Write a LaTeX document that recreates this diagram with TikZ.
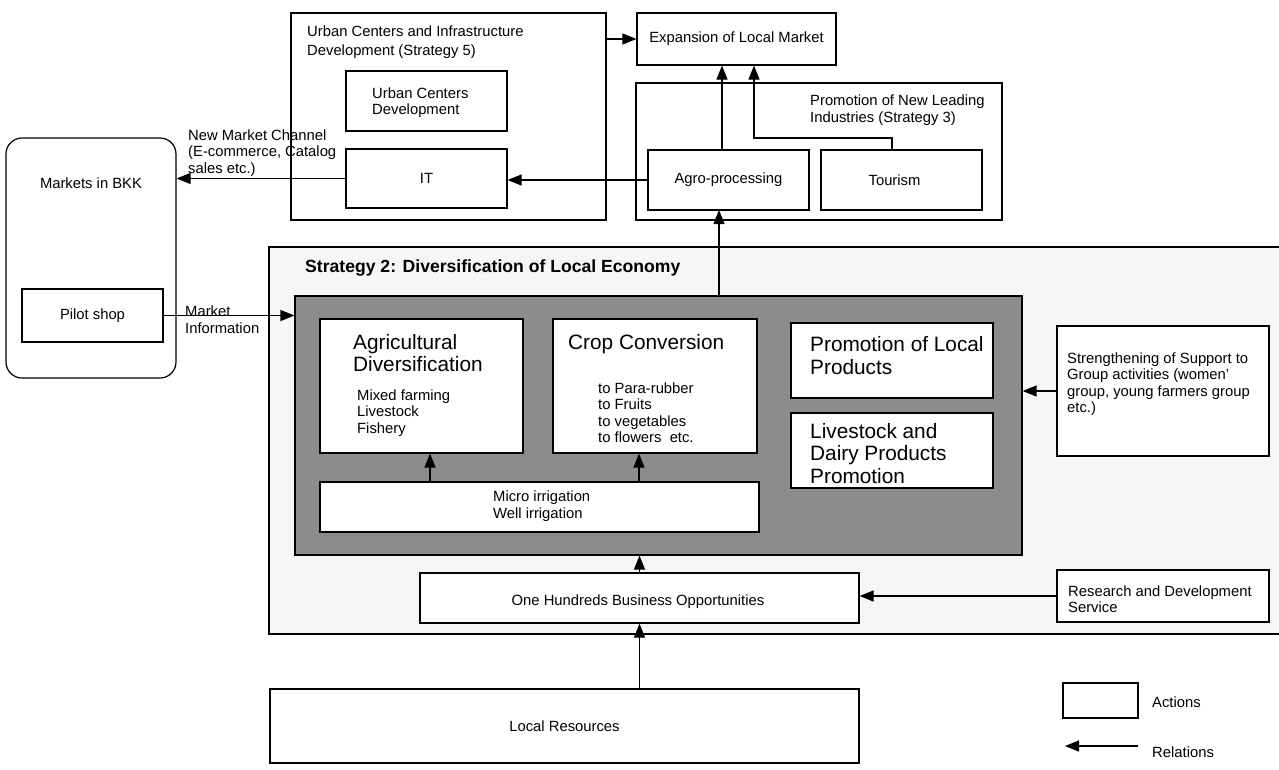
\documentclass[tikz,border=0pt]{standalone}
\usepackage{fontspec}
\setmainfont{Liberation Sans}
\usetikzlibrary{arrows.meta,fit,calc}
\tikzset{
  box/.style={draw, line width=1.2pt, fill=white, inner sep=0pt},
  arr/.style={line width=1.2pt, -{Triangle[length=14pt,width=11pt]}},
  sm/.style={font=\fontsize{14.8}{16.5}\selectfont, align=left, inner sep=0pt},
  lg/.style={font=\fontsize{20.8}{22.5}\selectfont, align=left, inner sep=0pt},
  bd/.style={font=\bfseries\fontsize{17.6}{20}\selectfont, inner sep=0pt},
}
\begin{document}
\begin{tikzpicture}[x=1pt,y=-1pt]
\useasboundingbox (0,0) rectangle (1279,769);
% Strategy 2 outer area
\node[box, fill=gray!7, fit={(269,247) (1290,634)}] (strat) {};
\node[box, fill=black!45, fit={(295,296) (1022,555)}] (gray) {};
% top boxes
\node[box, fit={(291,13) (606,220)}] (urban) {};
\node[box, fit={(346,71) (507,131)}] (ucd) {};
\node[box, fit={(346,149) (507,208)}] (it) {};
\node[box, fit={(637,13) (836,65)}] (exp) {};
\node[box, fit={(636,83) (1002,220)}] (pnl) {};
\node[box, fit={(648,150) (809,210)}] (agro) {};
\node[box, fit={(821,150) (982,210)}] (tour) {};
\node[box, rounded corners=16pt, fit={(6,138) (176,378)}] (mkt) {};
\node[box, fit={(22,289) (163,342)}] (pilot) {};
% inner boxes
\node[box, fit={(320,319) (523,453)}] (agri) {};
\node[box, fit={(553,319) (757,453)}] (crop) {};
\node[box, fit={(791,323) (993,398)}] (prom) {};
\node[box, fit={(791,413) (993,488)}] (live) {};
\node[box, fit={(320,482) (759,532)}] (micro) {};
\node[box, fit={(1057,326) (1269,456)}] (stren) {};
\node[box, fit={(420,573) (859,623)}] (hund) {};
\node[box, fit={(1057,570) (1269,622)}] (rd) {};
\node[box, fit={(270,689) (859,763)}] (local) {};
\node[box, fit={(1063,683) (1138,718)}] (legend) {};
% texts
\node[sm, font=\fontsize{14.8}{18.5}\selectfont, anchor=west] (t1) at (307,42) {Urban Centers and Infrastructure\\Development (Strategy 5)};
\node[sm, font=\fontsize{14.8}{15.5}\selectfont, anchor=west] (t2) at (372,102.5) {Urban Centers\\Development};
\node[sm] (t3) at (it.center) {IT};
\node[sm] (t4) at (exp.center) {Expansion of Local Market};
\node[sm, anchor=west] (t5) at (810,110) {Promotion of New Leading\\Industries (Strategy 3)};
\node[sm] (t6) at (agro.center) {Agro-processing};
\node[sm] (t7) at ([xshift=-7pt]tour.center) {Tourism};
\node[sm] (t8) at (91,183) {Markets in BKK};
\node[sm] (t9) at (pilot.center) {Pilot shop};
\node[sm, anchor=west] (t10) at (188,153) {New Market Channel\\(E-commerce, Catalog\\sales etc.)};
\node[sm, anchor=west] (t11) at (185,319.5) {Market\\Information};
\node[bd, anchor=west] (t12) at (305,268) {Strategy 2: Diversification of Local Economy};
\node[lg, anchor=west] (t13) at (353,353) {Agricultural\\Diversification};
\node[sm, anchor=west] (t14) at (357,413) {Mixed farming\\Livestock\\Fishery};
\node[lg, anchor=west] (t15) at (568,344) {Crop Conversion};
\node[sm, anchor=west] (t16) at (598,412.5) {to Para-rubber\\to Fruits\\to vegetables\\to flowers\ \ etc.};
\node[lg, anchor=west] (t17) at (810,355.5) {Promotion of Local\\Products};
\node[lg, anchor=west] (t18) at (810,453.5) {Livestock and\\Dairy Products\\Promotion};
\node[sm, anchor=west] (t19) at (493,506) {Micro irrigation\\Well irrigation};
\node[sm, anchor=west] (t20) at (1067,384) {Strengthening of Support to\\Group activities (women'\\group, young farmers group\\etc.)};
\node[sm] (t21) at (638,602) {One Hundreds Business Opportunities};
\node[sm, anchor=west] (t22) at (1068,599) {Research and Development\\Service};
\node[sm] (t23) at (local.center) {Local Resources};
\node[sm, anchor=west] (t24) at (1152,702) {Actions};
\node[sm, anchor=west] (t25) at (1152,752) {Relations};
% connectors
\draw[arr] (urban.east |- exp.west) -- (exp.west);
\coordinate (ag) at (722,150);
\draw[arr] (ag) -- (ag |- exp.south);
\coordinate (tk) at (754,138);
\coordinate (tn) at (892,150);
\draw[arr] (tn) |- (tk) -- (tk |- exp.south);
\draw[arr] (agro.west) -- (agro.west -| it.east);
\draw[arr] (it.west) -- (it.west -| mkt.east);
\draw[arr] (pilot.east) -- (pilot.east -| gray.west);
\coordinate (gs) at (719,210);
\draw[arr] (gs |- gray.north) -- (gs);
\coordinate (m1) at (430,482);
\draw[arr] (m1) -- (m1 |- agri.south);
\coordinate (m2) at (639,482);
\draw[arr] (m2) -- (m2 |- crop.south);
\draw[arr] (hund.north) -- (hund.north |- gray.south);
\draw[arr] (local.north -| hund.north) -- (hund.south);
\draw[arr] (stren.west) -- (stren.west -| gray.east);
\draw[arr] (rd.west) -- (rd.west -| hund.east);
\coordinate (lr1) at (1138,746);
\coordinate (lr2) at (1065,746);
\draw[arr] (lr1) -- (lr2);
\end{tikzpicture}
\end{document}
